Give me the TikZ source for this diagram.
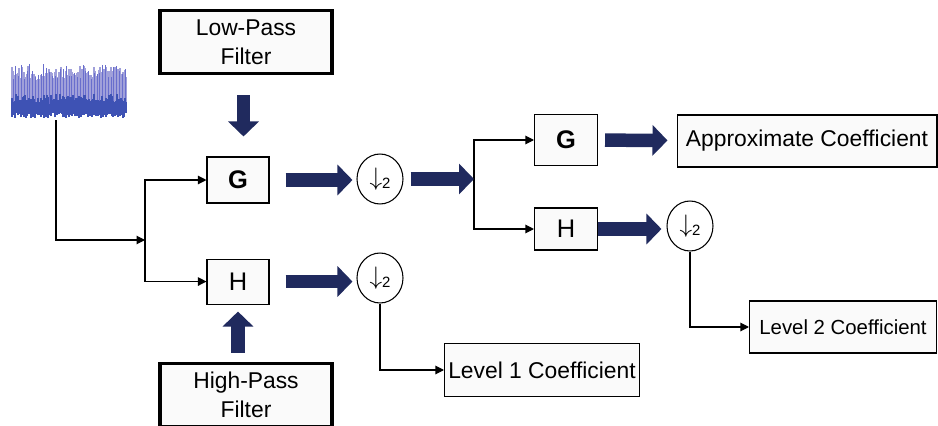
\documentclass[tikz,border=0pt]{standalone}
\usepackage{fontspec}
\setmainfont{Liberation Sans}
\usetikzlibrary{positioning,shapes.geometric,arrows.meta}
\definecolor{navy}{RGB}{32,42,94}
\definecolor{boxfill}{RGB}{250,250,250}
\definecolor{spikeblue}{RGB}{160,160,218}
\definecolor{darkspike}{RGB}{105,110,205}
\definecolor{baseblue}{RGB}{62,82,180}
\newcommand{\lbl}{\fontsize{13}{16.5}\selectfont}
\newcommand{\lbltwo}{\fontsize{11.6}{14}\selectfont}
\newcommand{\gh}{\fontsize{14.5}{16}\selectfont}
\newcommand{\downtwo}{{\fontsize{14}{14}\selectfont$\downarrow$}\raisebox{-2pt}{\fontsize{8.5}{8.5}\selectfont 2}}

\begin{document}
\begin{tikzpicture}[x=0.02cm, y=-0.02cm,
	block/.style = {draw, line width=0.6pt, fill=boxfill, font=\lbl, inner sep=0pt},
	filt/.style = {block, line width=1.8pt, align=center, minimum width=34.4mm, minimum height=12.6mm},
	coef/.style = {block, minimum height=10.4mm},
	down/.style = {draw, ellipse, line width=0.6pt, fill=white, minimum width=9.2mm, minimum height=10mm, inner sep=0pt},
	wire/.style = {line width=0.6pt, -{Triangle[length=1.7mm,width=1.7mm]}},
	fat/.style = {navy, line width=2.7mm, -{Triangle[length=3mm,width=6mm]}}]
	\useasboundingbox (0,0) rectangle (938,426);
	\clip (0,0) rectangle (938,426);
	
	%Input signal
	\pgfmathsetseed{3}
	\foreach \i in {0,...,114} {
		\pgfmathsetmacro{\tp}{66+14*rnd}
		\draw[spikeblue, line width=0.6pt] (12+\i,104) -- (12+\i,\tp);
	}
	\foreach \i in {0,...,40} {
		\pgfmathsetmacro{\tp}{64+16*rnd}
		\draw[darkspike, line width=0.5pt] (13+2.8*\i,104) -- (13+2.8*\i,\tp);
	}
	\foreach \i in {0,...,114} {
		\pgfmathsetmacro{\lo}{112+6*rnd}
		\pgfmathsetmacro{\hi}{94+10*rnd}
		\draw[baseblue, line width=0.7pt] (12+\i,\lo) -- (12+\i,\hi);
	}
	\coordinate (sigout) at (56,120);
	\coordinate (sp1) at (145,240);
	
	%First level
	\node[filt] (lp) at (246,42) {Low-Pass\\Filter};
	\node[block, minimum width=12.4mm, minimum height=9.2mm, font=\gh\bfseries] (g1) at (238,180) {G};
	\node[block, minimum width=12.4mm, minimum height=9mm, font=\gh] (h1) [below=11mm of g1] {H};
	\node[filt] (hp) at (246,395) {High-Pass\\Filter};
	\node[down] (c1) at (380,179) {\downtwo};
	\node[down] (c2) at (380,278) {\downtwo};
	\node[coef, minimum width=39mm, minimum height=10.6mm] (l1) at (542,370) {Level 1 Coefficient};
	\coordinate (sp2) at (474,179);
	
	%Second level
	\node[block, minimum width=12.6mm, minimum height=10.2mm, font=\gh\bfseries] (g2) at (566,140) {G};
	\node[block, minimum width=12.6mm, minimum height=8.4mm, font=\gh] (h2) at (566,229) {H};
	\node[coef, minimum width=52mm] (apx) at (807,141) {Approximate Coefficient};
	\node[down] (c3) at (690,226) {\downtwo};
	\node[coef, minimum width=37.4mm, font=\lbltwo] (l2) at (843,327) {Level 2 Coefficient};
	
	%Thin connectors
	\draw[wire] (sigout) |- (sp1); %Signal -> split
	\draw[wire] (sp1) |- (g1); %Split -> G
	\draw[wire] (sp1) |- (h1); %Split -> H
	\draw[wire] (c2) |- (l1); %Down -> level 1
	\draw[wire] (sp2) |- (g2); %Split -> G
	\draw[wire] (sp2) |- (h2); %Split -> H
	\draw[wire] (c3) |- (l2); %Down -> level 2
	
	%Thick arrows
	\draw[fat, shorten <=4mm, shorten >=4mm] ([xshift=-0.5mm]lp.south) -- ([xshift=-0.5mm]lp.south |- g1.north); %Low-pass -> G
	\draw[fat, shorten <=1.8mm, shorten >=1.4mm] (hp.north -| h1) -- (h1.south); %High-pass -> H
	\draw[fat, shorten <=3.2mm, shorten >=0.8mm] (g1.east) -- (g1.east -| c1.west); %G -> down
	\draw[fat, shorten <=3.2mm, shorten >=0.8mm] (h1.east) -- (h1.east -| c2.west); %H -> down
	\draw[fat, shorten <=1.4mm] (c1) -- (sp2); %Down -> split
	\draw[fat, shorten <=1.4mm, shorten >=1.8mm] (g2) -- (apx); %G -> approximate
	\draw[fat, shorten >=1mm] (h2.east) -- (h2.east -| c3.west); %H -> down
\end{tikzpicture}
\end{document}
